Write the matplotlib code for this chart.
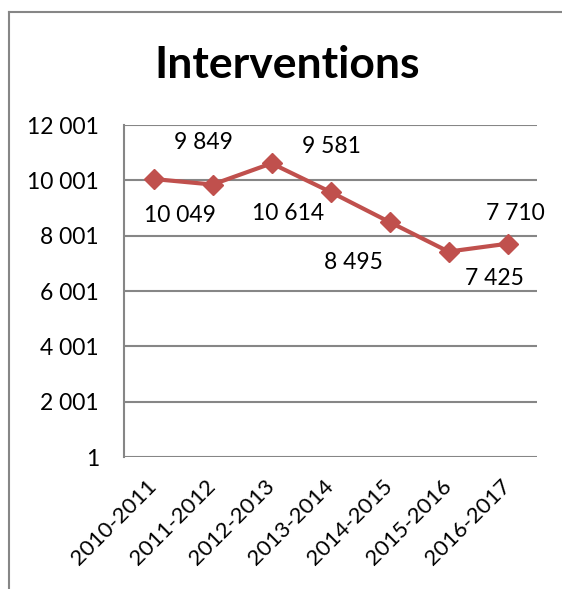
import matplotlib
matplotlib.use("Agg")
import matplotlib.pyplot as plt
from matplotlib.lines import Line2D
from matplotlib.ticker import FuncFormatter

plt.rcParams['font.family'] = ['Lato', 'DejaVu Sans']

categories = ["2010-2011", "2011-2012", "2012-2013", "2013-2014", "2014-2015", "2015-2016", "2016-2017"]
values = [10049, 9849, 10614, 9581, 8495, 7425, 7710]
yticks = [1, 2001, 4001, 6001, 8001, 10001, 12001]
# label offsets in pixels (dx, dy up)
label_offsets = [(26, -36), (-9, 42), (17, -50), (1, 45), (-36, -41), (46, -27), (8, 30)]

def fmt(v):
    return f"{int(v):,}".replace(",", " ")

W, H = 562, 589
fig = plt.figure(figsize=(W / 100, H / 100), dpi=100)
ax = fig.add_axes([124 / W, 1 - 457 / H, (537 - 124) / W, (457 - 125) / H])

red = "#C0504D"
grey = "#868686"
x = list(range(len(categories)))
ax.plot(x, values, color=red, lw=3, marker="D", markersize=10, zorder=3)

for xi, v, (dx, dy) in zip(x, values, label_offsets):
    ax.annotate(fmt(v), (xi, v), xytext=(dx, dy), textcoords="offset pixels",
                ha="center", va="center", fontsize=16.5, color="black")

ax.set_xlim(-0.5, len(categories) - 0.5)
ax.set_ylim(1, 12001)
ax.set_yticks(yticks)
ax.yaxis.set_major_formatter(FuncFormatter(lambda v, p: fmt(v)))
ax.set_xticks(x)
ax.set_xticklabels(categories, rotation=45, ha="right", va="center", rotation_mode="anchor")
ax.tick_params(axis="y", length=0, pad=18, labelsize=16.5)
ax.tick_params(axis="x", length=0, pad=19, labelsize=16)
ax.grid(axis="y", color=grey, lw=1.5)
ax.set_axisbelow(True)
for s in ["top", "right", "bottom"]:
    ax.spines[s].set_visible(False)
ax.spines["left"].set_color(grey)
ax.spines["left"].set_linewidth(1.5)

fig.text(287 / W, 1 - 65 / H, "Interventions", ha="center", va="center",
         fontsize=32, fontweight="bold")

# figure frame (left and top)
fig.add_artist(Line2D([9 / W, 9 / W], [0, 1 - 12 / H], color=grey, lw=1.5, transform=fig.transFigure))
fig.add_artist(Line2D([9 / W, 1], [1 - 12 / H, 1 - 12 / H], color=grey, lw=1.5, transform=fig.transFigure))

fig.savefig("out.png", dpi=100)
